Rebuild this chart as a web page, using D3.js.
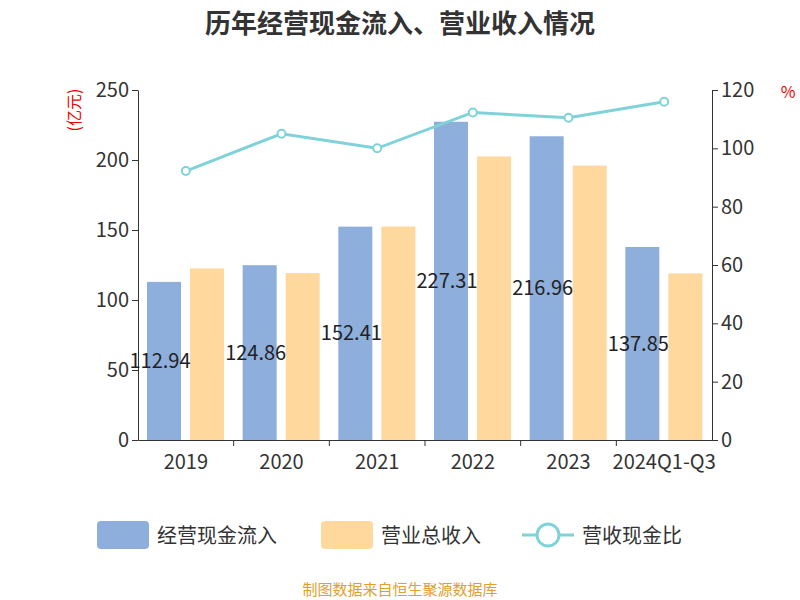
<!DOCTYPE html><html><head><meta charset="utf-8"><script src="https://cdn.jsdelivr.net/npm/d3@7"></script>
<style>body{margin:0;background:#fff}text{font-family:"Noto Sans CJK SC","Noto Sans",sans-serif}</style></head><body><svg width="800" height="600"></svg><script>
const categories=["2019","2020","2021","2022","2023","2024Q1-Q3"];
const cashIn=[112.94,124.86,152.41,227.31,216.96,137.85];
const revenue=[122.5,119.2,152.5,202.5,196.0,119.0];
const ratio=[92.2,105.0,100.0,112.3,110.5,116.0];
const leftTicks=[0,50,100,150,200,250], rightTicks=[0,20,40,60,80,100,120];
const svg=d3.select("svg");
const L=138,R=712,T=90,B=440;
const x=d3.scaleBand().domain(categories).range([L,R]);
const yl=d3.scaleLinear().domain([0,250]).range([B,T]);
const yr=d3.scaleLinear().domain([0,120]).range([B,T]);
svg.append("text").attr("x",400).attr("y",33).attr("text-anchor","middle").attr("font-size",26).attr("font-weight","bold").attr("fill","#333").text("历年经营现金流入、营业收入情况");
const bw=34;
svg.selectAll(".b1").data(cashIn).join("rect").attr("x",(d,i)=>x(categories[i])+9).attr("y",d=>yl(d)).attr("width",bw).attr("height",d=>B-yl(d)).attr("fill","#8eaedb");
svg.selectAll(".b2").data(revenue).join("rect").attr("x",(d,i)=>x(categories[i])+52).attr("y",d=>yl(d)).attr("width",bw).attr("height",d=>B-yl(d)).attr("fill","#fed89d");
const ax=svg.append("g").attr("transform",`translate(0,${B})`).call(d3.axisBottom(x).tickSize(0).tickSizeOuter(0));
ax.selectAll("text").attr("font-size",20).attr("fill","#333").attr("dy","1.3em");
ax.selectAll("path").attr("stroke","#333");
ax.selectAll(".bt").data(categories.slice(1)).join("line").attr("x1",d=>x(d)).attr("x2",d=>x(d)).attr("y1",0).attr("y2",6).attr("stroke","#333");
const al=svg.append("g").attr("transform",`translate(${L},0)`).call(d3.axisLeft(yl).tickValues(leftTicks).tickSize(6).tickSizeOuter(0));
al.selectAll("text").attr("font-size",20).attr("fill","#333");
al.selectAll("line,path").attr("stroke","#333");
const ar=svg.append("g").attr("transform",`translate(${R},0)`).call(d3.axisRight(yr).tickValues(rightTicks).tickSize(6).tickSizeOuter(0));
ar.selectAll("text").attr("font-size",20).attr("fill","#333");
ar.selectAll("line,path").attr("stroke","#333");
svg.append("text").attr("transform","translate(80,110) rotate(-90)").attr("text-anchor","middle").attr("font-size",16).attr("fill","#e00").text("(亿元)");
svg.append("text").attr("x",788).attr("y",98).attr("text-anchor","middle").attr("font-size",16).attr("fill","#e00").text("%");
svg.selectAll(".lb").data(cashIn).join("text").attr("x",(d,i)=>x(categories[i])+22).attr("y",d=>(yl(d)+B)/2+7).attr("text-anchor","middle").attr("font-size",20).attr("fill","#222").text(d=>d.toFixed(2));
const cx=(i)=>x(categories[i])+x.bandwidth()/2;
svg.append("path").datum(ratio).attr("d",d3.line().x((d,i)=>cx(i)).y(d=>yr(d))).attr("fill","none").attr("stroke","#7fd3d8").attr("stroke-width",3);
svg.selectAll(".pt").data(ratio).join("circle").attr("cx",(d,i)=>cx(i)).attr("cy",d=>yr(d)).attr("r",4).attr("fill","#fff").attr("stroke","#7fd3d8").attr("stroke-width",2);
const lg=svg.append("g");
lg.append("rect").attr("x",97).attr("y",521).attr("width",52).attr("height",28).attr("rx",4).attr("fill","#8eaedb");
lg.append("text").attr("x",157).attr("y",543).attr("font-size",20).attr("fill","#333").text("经营现金流入");
lg.append("rect").attr("x",321).attr("y",521).attr("width",52).attr("height",28).attr("rx",4).attr("fill","#fed89d");
lg.append("text").attr("x",381).attr("y",543).attr("font-size",20).attr("fill","#333").text("营业总收入");
lg.append("line").attr("x1",522).attr("x2",574).attr("y1",535).attr("y2",535).attr("stroke","#7fd3d8").attr("stroke-width",3);
lg.append("circle").attr("cx",548).attr("cy",535).attr("r",11).attr("fill","#fff").attr("stroke","#7fd3d8").attr("stroke-width",3);
lg.append("text").attr("x",582).attr("y",543).attr("font-size",20).attr("fill","#333").text("营收现金比");
svg.append("text").attr("x",400).attr("y",595).attr("text-anchor","middle").attr("font-size",15).attr("fill","#e0a030").text("制图数据来自恒生聚源数据库");
</script></body></html>
